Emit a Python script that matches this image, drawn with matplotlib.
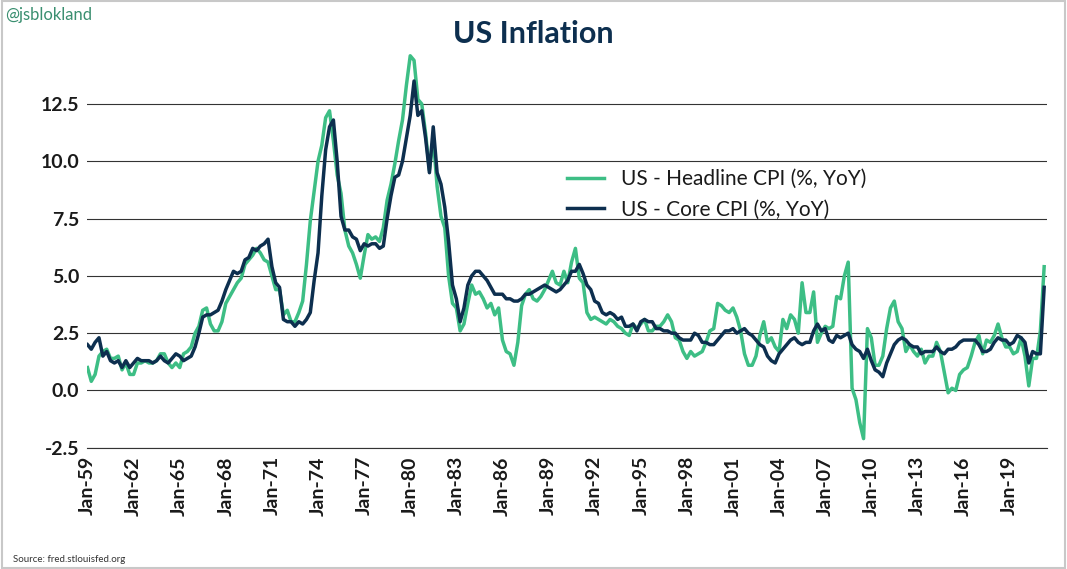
import pandas as pd
import matplotlib.pyplot as plt
import matplotlib.dates as mdates
from matplotlib.patches import Rectangle

# quarterly YoY readings, Jan-59 .. Apr-21
headline = [
    1.0, 0.4, 0.7, 1.5, 1.7, 1.8, 1.4, 1.4, 1.5, 0.9, 1.2, 0.7, 0.7, 1.2, 1.2, 1.3,
    1.2, 1.2, 1.3, 1.6, 1.6, 1.2, 1.0, 1.2, 1.0, 1.6, 1.7, 1.9, 2.5, 2.8, 3.5, 3.6,
    2.9, 2.6, 2.6, 3.0, 3.8, 4.1, 4.4, 4.7, 4.9, 5.5, 5.7, 5.9, 6.2, 6.0, 5.7, 5.6,
    5.0, 4.4, 4.4, 3.3, 3.5, 3.0, 3.0, 3.4, 3.9, 5.5, 7.4, 8.7, 10.0, 10.7, 11.9, 12.2,
    10.9, 9.4, 8.6, 7.0, 6.3, 6.0, 5.5, 4.9, 5.9, 6.8, 6.6, 6.7, 6.5, 7.1, 8.3, 9.0,
    9.9, 10.9, 11.8, 13.3, 14.6, 14.4, 12.7, 12.5, 11.2, 9.6, 11.0, 8.9, 7.6, 7.1, 5.0, 3.8,
    3.6, 2.6, 2.9, 3.8, 4.6, 4.2, 4.3, 4.0, 3.6, 3.8, 3.3, 3.6, 2.2, 1.7, 1.6, 1.1,
    2.1, 3.7, 4.2, 4.4, 4.0, 3.9, 4.1, 4.4, 4.8, 5.2, 4.7, 4.6, 5.2, 4.7, 5.6, 6.2,
    4.9, 4.7, 3.4, 3.1, 3.2, 3.1, 3.0, 2.9, 3.1, 3.0, 2.8, 2.7, 2.5, 2.4, 2.9, 2.7,
    2.9, 3.1, 2.6, 2.6, 2.8, 2.8, 3.0, 3.3, 3.0, 2.3, 2.2, 1.7, 1.4, 1.7, 1.5, 1.6,
    1.7, 2.1, 2.6, 2.7, 3.8, 3.7, 3.5, 3.4, 3.6, 3.2, 2.6, 1.6, 1.1, 1.1, 1.5, 2.4,
    3.0, 2.1, 2.3, 1.9, 1.7, 3.1, 2.7, 3.3, 3.1, 2.5, 4.7, 3.4, 3.4, 4.3, 2.1, 2.5,
    2.8, 2.7, 2.8, 4.1, 4.0, 5.0, 5.6, 0.1, -0.4, -1.4, -2.1, 2.7, 2.3, 1.1, 1.1, 1.5,
    2.7, 3.6, 3.9, 3.0, 2.7, 1.7, 2.0, 1.7, 1.5, 1.8, 1.2, 1.5, 1.5, 2.1, 1.7, 0.8,
    -0.1, 0.1, 0.0, 0.7, 0.9, 1.0, 1.5, 2.1, 2.4, 1.6, 2.2, 2.1, 2.4, 2.9, 2.3, 1.9,
    1.9, 1.6, 1.7, 2.3, 1.5, 0.2, 1.4, 1.4, 2.6, 5.4,
]
core = [
    2.0, 1.8, 2.1, 2.3, 1.5, 1.7, 1.3, 1.2, 1.3, 1.0, 1.3, 1.0, 1.2, 1.4, 1.3, 1.3,
    1.3, 1.2, 1.3, 1.5, 1.3, 1.2, 1.4, 1.6, 1.5, 1.3, 1.4, 1.5, 1.9, 2.5, 3.2, 3.3,
    3.3, 3.4, 3.5, 3.9, 4.4, 4.8, 5.2, 5.1, 5.2, 5.7, 5.8, 6.2, 6.1, 6.3, 6.4, 6.6,
    5.4, 4.7, 4.5, 3.1, 3.0, 3.0, 2.8, 3.0, 2.9, 3.1, 3.4, 4.8, 6.0, 8.5, 10.5, 11.5,
    11.8, 10.0, 7.6, 7.0, 7.0, 6.7, 6.6, 6.1, 6.4, 6.3, 6.4, 6.4, 6.2, 6.3, 7.5, 8.5,
    9.3, 9.4, 10.0, 11.0, 12.0, 13.5, 12.0, 12.2, 11.0, 9.5, 11.5, 9.5, 9.0, 8.0, 6.5, 4.6,
    4.0, 3.0, 3.6, 4.6, 5.0, 5.2, 5.2, 5.0, 4.8, 4.5, 4.2, 4.2, 4.2, 4.0, 4.0, 3.9,
    3.9, 4.0, 4.2, 4.2, 4.3, 4.4, 4.5, 4.6, 4.5, 4.4, 4.3, 4.4, 4.6, 4.8, 5.2, 5.2,
    5.5, 5.1, 4.6, 4.4, 3.9, 3.8, 3.4, 3.3, 3.4, 3.3, 3.1, 3.2, 2.8, 2.8, 2.9, 2.6,
    3.0, 3.1, 3.0, 3.0, 2.7, 2.7, 2.6, 2.6, 2.5, 2.5, 2.3, 2.2, 2.2, 2.2, 2.5, 2.4,
    2.1, 2.1, 2.0, 2.0, 2.2, 2.4, 2.6, 2.6, 2.7, 2.5, 2.6, 2.7, 2.5, 2.4, 2.2, 2.0,
    1.9, 1.5, 1.3, 1.2, 1.6, 1.8, 2.0, 2.2, 2.3, 2.1, 2.0, 2.1, 2.1, 2.6, 2.9, 2.6,
    2.7, 2.2, 2.1, 2.4, 2.3, 2.4, 2.5, 2.0, 1.8, 1.7, 1.4, 1.8, 1.3, 0.9, 0.8, 0.6,
    1.2, 1.6, 2.0, 2.2, 2.3, 2.2, 2.0, 1.9, 1.9, 1.6, 1.7, 1.7, 1.7, 1.9, 1.7, 1.6,
    1.8, 1.8, 1.9, 2.1, 2.2, 2.2, 2.2, 2.2, 2.0, 1.7, 1.7, 1.8, 2.1, 2.3, 2.2, 2.2,
    2.0, 2.1, 2.4, 2.3, 2.1, 1.2, 1.7, 1.6, 1.6, 4.5,
]
dates = pd.date_range("1959-01-01", periods=len(headline), freq="QS")
tick_years = list(range(1959, 2020, 3))
y_ticks = [-2.5, 0.0, 2.5, 5.0, 7.5, 10.0, 12.5]

green = "#3dbe85"
navy = "#0d2f4f"
plt.rcParams["font.family"] = "Lato"

fig = plt.figure(figsize=(10.67, 5.69), dpi=100)
fig.patches.append(Rectangle((0.002, 0.002), 0.996, 0.996, transform=fig.transFigure,
                             fill=False, edgecolor="#c8c8c8", lw=1.5))
ax = fig.add_axes([0.082, 0.213, 0.899, 0.697])

ax.plot(dates, headline, color=green, lw=2.5, label="US - Headline CPI (%, YoY)")
ax.plot(dates, core, color=navy, lw=2.5, label="US - Core CPI (%, YoY)")

ax.set_ylim(-2.5, 14.8)
ax.set_yticks(y_ticks)
ax.set_yticklabels([f"{v:.1f}" for v in y_ticks], fontsize=14, fontweight="bold", color="#1a1a1a")
ax.set_xlim(pd.Timestamp("1959-01-01"), pd.Timestamp("2021-06-01"))
ax.set_xticks([pd.Timestamp(f"{y}-01-01") for y in tick_years])
ax.xaxis.set_major_formatter(mdates.DateFormatter("Jan-%y"))
plt.setp(ax.get_xticklabels(), rotation=90, fontsize=14, fontweight="bold", color="#1a1a1a")
ax.tick_params(length=0, pad=6)
ax.grid(axis="y", color="#333333", lw=0.8)
for s in ["top", "right", "left"]:
    ax.spines[s].set_visible(False)
ax.spines["bottom"].set_color("#333333")

ax.legend(loc="upper left", bbox_to_anchor=(0.48, 0.75), frameon=False, fontsize=15,
          handlelength=1.8, labelcolor="#1a1a1a")

fig.text(0.5, 0.925, "US Inflation", ha="center", fontsize=22, fontweight="bold", color="#0d2f4f")
fig.text(0.005, 0.965, "@jsblokland", fontsize=12, color="#3a8f70")
fig.text(0.012, 0.012, "Source: fred.stlouisfed.org", fontsize=7, color="#333333")

fig.savefig("out.png", dpi=100)
